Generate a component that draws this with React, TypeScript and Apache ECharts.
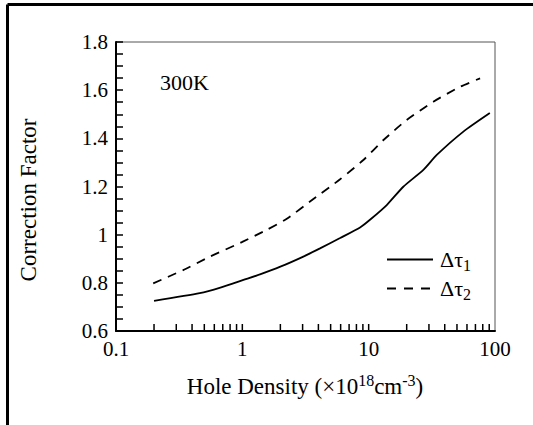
import React, { useEffect, useRef } from "react";
import * as echarts from "echarts";

const FONT = "Liberation Serif";

// Hole density (x1e18 cm^-3)
const tau1X = [0.2, 0.46, 0.67, 1.02, 1.38, 2.0, 3.04, 4.12, 5.94, 8.55, 10.3, 13.9, 18.8, 27.1, 34.6, 56.2, 91];
const tau1Y = [0.725, 0.757, 0.78, 0.812, 0.835, 0.867, 0.909, 0.943, 0.986, 1.03, 1.063, 1.123, 1.199, 1.269, 1.331, 1.428, 1.505];

const tau2X = [0.197, 0.34, 0.555, 1.0, 1.56, 2.25, 3.65, 5.94, 9.08, 13.1, 20, 32.5, 52.9, 76.2];
const tau2Y = [0.798, 0.853, 0.909, 0.97, 1.02, 1.066, 1.148, 1.23, 1.31, 1.393, 1.476, 1.552, 1.614, 1.649];

const xTickLabels = ["0.1", "1", "10", "100"];
const xMinorTicks = [0.2, 0.3, 0.4, 0.5, 0.6, 0.7, 0.8, 0.9, 1, 2, 3, 4, 5, 6, 7, 8, 9, 10, 20, 30, 40, 50, 60, 70, 80, 90];
const yTickLabels = ["0.6", "0.8", "1", "1.2", "1.4", "1.6", "1.8"];

const seriesNames = ["Δτ1", "Δτ2"];

export default function App() {
  const ref = useRef<HTMLDivElement>(null);
  useEffect(() => {
    if (!ref.current) return;
    const chart = echarts.init(ref.current, undefined, { renderer: "svg" });
    const legendText = (y: number, sub: string) => ({
      type: "text",
      x: 440,
      y,
      style: {
        text: `{b|Δτ}{s|${sub}}`,
        fontFamily: FONT,
        fontSize: 22,
        fill: "#000",
        align: "left",
        verticalAlign: "middle",
        rich: {
          b: { fontFamily: FONT, fontSize: 22, lineHeight: 28, fill: "#000" },
          s: { fontFamily: FONT, fontSize: 16, lineHeight: 28, verticalAlign: "bottom", fill: "#000" },
        },
      },
    });
    const option: any = {
      animation: false,
      backgroundColor: "#fff",
      grid: {
        left: 116,
        right: 38,
        top: 42,
        bottom: 94,
        show: true,
        borderColor: "#555",
        borderWidth: 1,
        backgroundColor: "transparent",
      },
      xAxis: {
        type: "log",
        logBase: 10,
        min: 0.1,
        max: 100,
        axisLine: { show: true, lineStyle: { color: "#000", width: 2 } },
        axisTick: { show: false },
        splitLine: { show: false },
        minorTick: { show: false },
        axisLabel: {
          margin: 7,
          color: "#000",
          fontFamily: FONT,
          fontSize: 21,
          formatter: (v: number) => {
            const i = Math.round(Math.log10(v)) + 1;
            return xTickLabels[i] ?? "";
          },
        },
      },
      yAxis: {
        type: "value",
        min: 0.6,
        max: 1.8,
        interval: 0.05,
        axisLine: { show: true, lineStyle: { color: "#000", width: 2 } },
        axisTick: { show: true, inside: true, length: 7, lineStyle: { color: "#000", width: 1.5 } },
        splitLine: { show: false },
        axisLabel: {
          margin: 8,
          color: "#000",
          fontFamily: FONT,
          fontSize: 21,
          formatter: (v: number) => {
            const k = (v - 0.6) / 0.2;
            if (Math.abs(k - Math.round(k)) < 1e-6) return yTickLabels[Math.round(k)] ?? "";
            return "";
          },
        },
      },
      graphic: [
        { type: "line", shape: { x1: 7.5, y1: 4.5, x2: 533, y2: 4.5 }, style: { stroke: "#000", lineWidth: 3 } },
        { type: "line", shape: { x1: 7.5, y1: 4.5, x2: 7.5, y2: 425 }, style: { stroke: "#000", lineWidth: 3 } },
        {
          type: "text",
          x: 160,
          y: 82,
          style: { text: "300K", fontFamily: FONT, fontSize: 22, fill: "#000", verticalAlign: "middle", align: "left" },
        },
        { type: "line", shape: { x1: 387, y1: 259.5, x2: 433, y2: 259.5 }, style: { stroke: "#000", lineWidth: 1.8 } },
        {
          type: "line",
          shape: { x1: 387, y1: 288.5, x2: 433, y2: 288.5 },
          style: { stroke: "#000", lineWidth: 1.8, lineDash: [9, 8] },
        },
        legendText(259, "1"),
        legendText(288, "2"),
        {
          type: "text",
          x: 305,
          y: 386,
          style: {
            text: "Hole Density (×10{sup|18}cm{sup|-3})",
            fontFamily: FONT,
            fontSize: 23,
            fill: "#000",
            align: "center",
            verticalAlign: "middle",
            rich: {
              sup: { fontFamily: FONT, fontSize: 16, lineHeight: 28, verticalAlign: "top", fill: "#000" },
            },
            lineHeight: 28,
          },
        },
        {
          type: "text",
          x: 28,
          y: 200,
          rotation: Math.PI / 2,
          style: {
            text: "Correction Factor",
            fontFamily: FONT,
            fontSize: 23,
            fill: "#000",
            align: "center",
            verticalAlign: "middle",
          },
        },
      ],
      series: [
        {
          name: seriesNames[0],
          type: "line",
          symbol: "none",
          smooth: 0.2,
          data: tau1X.map((x, i) => [x, tau1Y[i]]),
          lineStyle: { color: "#000", width: 1.8, type: "solid" },
          itemStyle: { color: "#000" },
        },
        {
          name: seriesNames[1],
          type: "line",
          symbol: "none",
          smooth: 0.2,
          data: tau2X.map((x, i) => [x, tau2Y[i]]),
          lineStyle: { color: "#000", width: 1.8, type: [9, 7] },
          itemStyle: { color: "#000" },
        },
        {
          name: "xticks",
          type: "custom",
          silent: true,
          data: xMinorTicks.map((v) => [v, 0.6]),
          renderItem: (_params: any, api: any) => {
            const p = api.coord([api.value(0), api.value(1)]);
            return {
              type: "line",
              shape: { x1: p[0], y1: p[1], x2: p[0], y2: p[1] - 7 },
              style: { stroke: "#000", lineWidth: 1.5 },
            };
          },
        },
      ],
    };
    chart.setOption(option);
    return () => chart.dispose();
  }, []);
  return <div ref={ref} style={{ position: "fixed", left: 0, top: 0, width: 533, height: 425 }} />;
}
